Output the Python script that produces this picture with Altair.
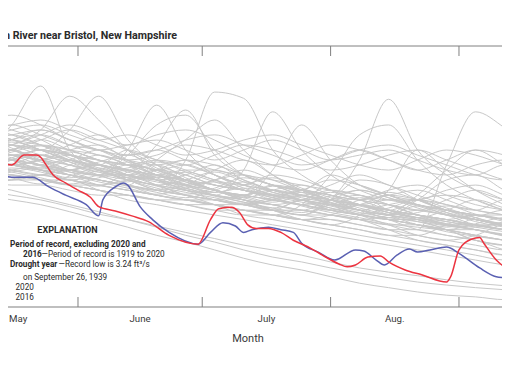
import altair as alt
import pandas as pd

# ---------------- data ----------------
grid_dates = ["2020-05-09", "2020-05-16", "2020-05-23", "2020-05-30", "2020-06-06",
              "2020-06-13", "2020-06-20", "2020-06-27", "2020-07-04", "2020-07-11",
              "2020-07-18", "2020-07-25", "2020-08-01", "2020-08-08", "2020-08-15",
              "2020-08-22", "2020-08-29", "2020-09-05", "2020-09-12", "2020-09-19"]

# daily mean streamflow (ft3/s) of the other years of record, read weekly
gray_series = [
    [260, 530, 1600, 260, 147, 111, 83, 72, 63, 55, 47, 63, 47, 41, 36, 31, 27, 27, 23, 23],
    [350, 300, 260, 460, 1200, 350, 170, 111, 83, 72, 63, 55, 63, 72, 47, 41, 36, 31, 31, 27],
    [170, 170, 195, 147, 128, 260, 930, 260, 128, 96, 72, 63, 55, 47, 41, 47, 41, 36, 31, 31],
    [225, 195, 170, 147, 170, 147, 300, 810, 225, 128, 96, 83, 72, 55, 47, 41, 36, 41, 41, 36],
    [147, 170, 147, 128, 111, 96, 83, 195, 1350, 1130, 260, 128, 83, 63, 55, 47, 41, 36, 31, 27],
    [195, 170, 147, 147, 128, 111, 96, 83, 72, 147, 770, 260, 128, 83, 63, 55, 47, 41, 36, 31],
    [260, 225, 195, 170, 147, 128, 111, 96, 83, 72, 147, 530, 195, 96, 72, 55, 47, 41, 36, 31],
    [128, 128, 111, 96, 83, 72, 63, 55, 55, 47, 47, 41, 63, 195, 1100, 260, 128, 83, 63, 55],
    [170, 147, 128, 111, 96, 83, 72, 63, 55, 55, 47, 41, 41, 36, 31, 27, 170, 770, 490, 260],
    [96, 83, 67, 55, 45, 36, 29, 23, 19, 15.2, 12.4, 10.8, 9.1, 7.9, 6.9, 6.1, 5.6, 5.2, 4.9, 4.6],
    [72, 63, 55, 45, 36, 29, 23, 19, 15.2, 12, 9.9, 8.6, 7.1, 5.9, 5.2, 4.6, 4.2, 4.0, 3.7, 3.7],
    [83, 72, 63, 52, 42, 36, 30, 25, 21, 17.4, 15.2, 13.1, 10.8, 9.1, 8.1, 7.3, 6.5, 5.9, 5.5, 5.2],
    [350, 400, 460, 350, 260, 225, 260, 195, 147, 128, 111, 96, 83, 72, 63, 63, 55, 47, 41, 36],
    [460, 350, 260, 195, 170, 260, 195, 147, 111, 96, 128, 111, 83, 63, 55, 47, 63, 83, 63, 47],
    [610, 460, 350, 225, 170, 128, 111, 128, 170, 111, 83, 72, 63, 55, 47, 41, 36, 31, 27, 27],
    [225, 260, 350, 260, 195, 147, 128, 111, 96, 83, 72, 83, 111, 96, 72, 55, 47, 41, 36, 31],
    [300, 225, 170, 128, 96, 83, 72, 63, 55, 47, 41, 36, 31, 27, 23, 20, 17.4, 15.2, 13.1, 13.1],
    [147, 195, 260, 225, 195, 170, 147, 111, 83, 72, 63, 55, 47, 55, 72, 63, 47, 36, 31, 27],
    [260, 350, 400, 300, 225, 195, 170, 195, 170, 128, 96, 83, 128, 96, 72, 63, 83, 96, 72, 55],
    [195, 147, 128, 170, 225, 170, 128, 96, 83, 72, 96, 83, 63, 47, 41, 36, 31, 31, 27, 23],
    [400, 350, 260, 195, 147, 111, 96, 83, 72, 63, 55, 47, 41, 36, 27, 20, 17.4, 15.2, 13.1, 11.4],
    [170, 225, 195, 147, 128, 128, 147, 128, 96, 83, 63, 55, 47, 41, 36, 31, 27, 23, 20, 17.4],
    [128, 147, 170, 195, 147, 111, 83, 72, 63, 55, 63, 72, 55, 47, 36, 27, 23, 20, 15.2, 13.1],
    [300, 300, 260, 225, 195, 170, 128, 96, 111, 147, 111, 83, 72, 63, 72, 83, 63, 47, 41, 36],
    [111, 111, 128, 147, 170, 128, 96, 72, 63, 55, 47, 41, 63, 111, 96, 63, 47, 41, 36, 31],
    [225, 170, 147, 128, 111, 96, 83, 96, 147, 195, 128, 83, 63, 47, 41, 36, 31, 27, 23, 20],
    [530, 400, 300, 225, 170, 147, 128, 111, 96, 83, 72, 63, 55, 47, 41, 63, 111, 128, 83, 63],
    [195, 170, 195, 260, 300, 195, 128, 111, 83, 63, 55, 47, 41, 36, 31, 31, 27, 23, 20, 17.4],
    [147, 128, 111, 96, 96, 111, 128, 96, 72, 63, 55, 63, 83, 72, 55, 41, 31, 27, 23, 20],
    [350, 260, 225, 300, 400, 260, 170, 128, 96, 83, 72, 63, 55, 55, 63, 55, 41, 31, 27, 23],
    [96, 111, 128, 111, 96, 83, 72, 63, 63, 72, 83, 72, 55, 41, 31, 23, 20, 17.4, 15.2, 15.2],
    [260, 195, 147, 111, 128, 170, 147, 111, 83, 63, 47, 36, 31, 27, 23, 23, 31, 41, 36, 27],
    [170, 195, 225, 170, 128, 96, 72, 63, 55, 47, 41, 36, 41, 55, 47, 36, 27, 20, 17.4, 15.2],
    [460, 530, 400, 300, 260, 195, 147, 170, 128, 96, 83, 72, 63, 55, 47, 63, 72, 63, 47, 41],
    [128, 128, 111, 111, 83, 63, 55, 47, 41, 36, 31, 27, 23, 20, 17.4, 15.2, 13.1, 11.4, 9.9, 9.1],
    [300, 260, 195, 225, 170, 128, 111, 83, 63, 55, 63, 83, 72, 63, 83, 96, 72, 55, 47, 41],
    [195, 260, 300, 260, 195, 170, 195, 170, 128, 96, 83, 72, 96, 128, 96, 72, 55, 47, 63, 55],
    [225, 195, 170, 147, 128, 128, 96, 72, 55, 41, 36, 31, 27, 23, 20, 17.4, 15.2, 13.1, 11.4, 11.4],
    [400, 350, 300, 260, 225, 170, 111, 83, 111, 128, 96, 83, 63, 55, 41, 31, 27, 20, 17.4, 17.4],
    [147, 170, 225, 195, 170, 147, 111, 83, 72, 63, 47, 41, 36, 31, 27, 23, 20, 23, 31, 31],
    [147, 128, 111, 96, 83, 72, 63, 63, 55, 47, 41, 55, 128, 400, 530, 195, 96, 63, 47, 41],
    [195, 170, 147, 128, 111, 96, 195, 350, 610, 260, 128, 83, 63, 55, 47, 41, 36, 31, 27, 23],
    [260, 300, 460, 1200, 610, 260, 147, 111, 83, 72, 63, 55, 47, 41, 36, 36, 31, 27, 23, 20],
    [225, 195, 170, 147, 128, 225, 530, 700, 260, 128, 96, 72, 63, 55, 47, 41, 36, 31, 27, 23],
    [128, 111, 111, 96, 83, 72, 63, 55, 47, 41, 41, 36, 31, 41, 83, 260, 147, 83, 55, 41],
    [111, 96, 96, 83, 72, 72, 63, 55, 47, 47, 41, 36, 36, 31, 27, 27, 23, 20, 17.4, 17.4],
    [260, 225, 260, 225, 170, 147, 128, 147, 147, 111, 83, 63, 47, 41, 36, 31, 27, 23, 20, 17.4],
    [195, 170, 147, 128, 111, 96, 83, 72, 63, 55, 47, 47, 41, 36, 41, 72, 147, 260, 170, 111],
    [300, 260, 208, 170, 139, 118, 147, 196, 128, 88, 72, 63, 53, 44, 38, 34, 30, 27, 23.7, 21.2],
    [156, 208, 260, 196, 147, 111, 88, 74, 88, 118, 96, 72, 58, 47, 55, 63, 44, 34, 29, 25.5],
    [365, 275, 196, 147, 185, 225, 156, 111, 83, 67, 83, 96, 72, 55, 44, 38, 34, 30, 27, 23.7],
    [128, 156, 139, 111, 93, 139, 170, 118, 83, 67, 55, 47, 63, 83, 67, 50, 41, 36, 32, 29],
    [245, 196, 156, 196, 260, 185, 128, 99, 78, 96, 118, 88, 67, 55, 44, 38, 47, 63, 50, 40],
    [185, 225, 185, 139, 111, 93, 78, 67, 83, 105, 78, 63, 50, 42, 50, 63, 50, 38, 30, 25.5],
    [326, 400, 300, 208, 156, 124, 105, 88, 72, 59, 50, 63, 78, 63, 47, 38, 32, 29, 34, 41],
    [208, 170, 196, 245, 196, 147, 118, 139, 111, 83, 67, 55, 47, 63, 78, 63, 47, 38, 31, 27],
    [139, 118, 99, 124, 156, 118, 93, 78, 67, 57, 67, 78, 63, 50, 41, 34, 29, 38, 47, 41],
    [275, 326, 260, 185, 139, 156, 185, 139, 105, 83, 70, 59, 50, 42, 36, 31, 25.5, 22.4, 20, 18.9],
    [170, 139, 118, 99, 118, 147, 118, 88, 70, 59, 50, 44, 55, 67, 55, 41, 34, 29, 25.5, 22.4],
    [400, 300, 225, 185, 147, 118, 96, 111, 139, 105, 78, 67, 57, 47, 42, 53, 44, 36, 30, 27],
    [118, 139, 156, 128, 105, 88, 74, 88, 105, 83, 67, 53, 44, 38, 32, 29, 27, 32, 38, 34],
    [260, 208, 165, 139, 124, 105, 124, 105, 83, 70, 93, 78, 63, 53, 44, 38, 32, 27, 22.4, 20],
    [196, 245, 292, 232, 175, 139, 111, 93, 78, 88, 74, 63, 70, 83, 67, 53, 42, 36, 30, 27],
    [147, 175, 147, 118, 147, 185, 139, 105, 83, 70, 59, 70, 59, 47, 38, 44, 53, 42, 34, 29],
    [260, 345, 460, 345, 260, 300, 345, 260, 196, 260, 345, 260, 196, 225, 260, 196, 147, 128, 170, 147],
    [345, 460, 530, 400, 300, 225, 260, 345, 400, 300, 225, 170, 196, 260, 300, 225, 170, 128, 111, 147],
    [610, 700, 530, 345, 260, 196, 225, 300, 260, 196, 170, 225, 300, 260, 196, 147, 196, 260, 225, 170],
    [170, 260, 345, 460, 345, 260, 196, 170, 225, 300, 260, 196, 147, 170, 225, 260, 196, 147, 111, 96],
    [460, 530, 610, 460, 345, 400, 300, 225, 260, 345, 400, 300, 225, 170, 147, 196, 260, 225, 170, 128],
    [225, 300, 400, 530, 400, 300, 400, 460, 345, 225, 170, 147, 196, 260, 196, 147, 128, 170, 196, 147],
]

red_dates = ["2020-05-13", "2020-05-16", "2020-05-19", "2020-05-22", "2020-05-23", "2020-05-24",
             "2020-05-26", "2020-05-29", "2020-06-01", "2020-06-04", "2020-06-06", "2020-06-10",
             "2020-06-14", "2020-06-18", "2020-06-23", "2020-06-30", "2020-07-03", "2020-07-05",
             "2020-07-08", "2020-07-10", "2020-07-12", "2020-07-14", "2020-07-17", "2020-07-20",
             "2020-07-23", "2020-07-27", "2020-07-30", "2020-08-03", "2020-08-05", "2020-08-07",
             "2020-08-10", "2020-08-13", "2020-08-15", "2020-08-19", "2020-08-23", "2020-08-29",
             "2020-08-30", "2020-09-01", "2020-09-04", "2020-09-06", "2020-09-07", "2020-09-10",
             "2020-09-13", "2020-09-16"]
red_q = [185, 170, 225, 225, 212, 180, 128, 102, 83, 68, 52, 46, 40, 34, 23, 17.9, 36, 49, 51, 44,
         31, 28, 28, 25, 20, 16.1, 13.1, 10.2, 9.4, 9.9, 12.4, 12.8, 10.8, 8.6, 7.5, 6.1, 7.1,
         15.2, 20.6, 21.7, 18.4, 11.4, 8.8, 8.0]

blue_dates = ["2020-05-13", "2020-05-16", "2020-05-21", "2020-05-25", "2020-05-29", "2020-06-03",
              "2020-06-06", "2020-06-07", "2020-06-10", "2020-06-12", "2020-06-13", "2020-06-16",
              "2020-06-19", "2020-06-23", "2020-06-30", "2020-07-03", "2020-07-06", "2020-07-09",
              "2020-07-11", "2020-07-13", "2020-07-17", "2020-07-20", "2020-07-23", "2020-07-25",
              "2020-07-29", "2020-08-02", "2020-08-07", "2020-08-09", "2020-08-12", "2020-08-14",
              "2020-08-17", "2020-08-20", "2020-08-22", "2020-08-25", "2020-08-29", "2020-09-01",
              "2020-09-06", "2020-09-10", "2020-09-13", "2020-09-16"]
blue_q = [131, 120, 120, 91, 72, 55, 40, 63, 91, 102, 96, 52, 36, 25, 17.9, 25, 33, 30, 25, 27,
          29, 27, 25, 18.4, 14.3, 11.4, 15.2, 14.7, 11.4, 9.9, 13.1, 15.6, 14.3, 15.2, 16.5, 13.8,
          9.1, 7.1, 6.8, 6.5]

month_starts = ["2020-06-01", "2020-07-01", "2020-08-01", "2020-09-01"]
month_mids = ["2020-06-16T00:00:00Z", "2020-07-16T12:00:00Z", "2020-08-16T12:00:00Z"]
month_labels = ["June", "July", "Aug."]

# ---------------- tables ----------------
gray_rows = []
for i, vals in enumerate(gray_series):
    for d, v in zip(grid_dates, vals):
        gray_rows.append({"series": f"y{i}", "date": d, "q": v})
gray_df = pd.DataFrame(gray_rows)
red_df = pd.DataFrame({"date": red_dates, "q": red_q})
blue_df = pd.DataFrame({"date": blue_dates, "q": blue_q})
ticks_df = pd.DataFrame({"date": month_starts})
labels_df = pd.DataFrame({"date": month_mids, "label": month_labels})
one = pd.DataFrame({"k": [0]})

W, H = 502, 261
FONT = "Roboto"
xscale = alt.Scale(type="utc", domain=[
    alt.DateTime(year=2020, month=5, date=13, hours=4, utc=True),
    alt.DateTime(year=2020, month=9, date=11, hours=9, minutes=20, utc=True)])
yscale = alt.Scale(type="log", domain=[3, 5000])
X = alt.X("date:T", scale=xscale, axis=None)
Y = alt.Y("q:Q", scale=yscale, axis=None)

gray = alt.Chart(gray_df).mark_line(color="#c8c8c8", strokeWidth=1, interpolate="monotone",
                                    clip=True).encode(x=X, y=Y, detail="series:N")
blue = alt.Chart(blue_df).mark_line(color="#5a60b2", strokeWidth=1.5, interpolate="monotone",
                                    clip=True).encode(x=X, y=Y)
red = alt.Chart(red_df).mark_line(color="#ec3440", strokeWidth=1.5, interpolate="monotone",
                                  clip=True).encode(x=X, y=Y)

frame_top = alt.Chart(one).mark_rule(color="#808080", strokeWidth=1).encode(
    x=alt.value(0), x2=alt.value(W), y=alt.value(0))
frame_bot = alt.Chart(one).mark_rule(color="#808080", strokeWidth=1.2).encode(
    x=alt.value(0), x2=alt.value(W), y=alt.value(H))
ticks_bot = alt.Chart(ticks_df).mark_rule(color="#808080", strokeWidth=1).encode(
    x=X, y=alt.value(H), y2=alt.value(H - 10))
ticks_top = alt.Chart(ticks_df).mark_rule(color="#808080", strokeWidth=1).encode(
    x=X, y=alt.value(0), y2=alt.value(10))

month_text = alt.Chart(labels_df).mark_text(font=FONT, fontSize=9.7, color="#3a3a3a",
                                            align="center", baseline="alphabetic").encode(
    x=X, y=alt.value(H + 15), text="label:N")


def txt(s, x, y, size=8.2, bold=False, align="left", color="#2b2b2b"):
    return alt.Chart(one).mark_text(text=s, font=FONT, fontSize=size,
                                    fontWeight="bold" if bold else "normal",
                                    color=color, align=align, baseline="alphabetic").encode(
        x=alt.value(x), y=alt.value(y))


texts = [
    txt("May", 9, H + 15, size=9.7, color="#3a3a3a"),
    txt("Month", 248, H + 35, size=11, color="#3a3a3a", align="center"),
    txt("Smith River near Bristol, New Hampshire", 177, -7, size=10.7, bold=True, align="right"),
    txt("EXPLANATION", 67.5, 186.7, size=9, bold=True, align="center"),
    txt("Period of record, excluding 2020 and", 10, 200.7, bold=True),
    txt("2016", 23, 211.3, bold=True),
    txt("\u2014Period of record is 1919 to 2020", 41.5, 211.3),
    txt("Drought year", 10, 221.3, bold=True),
    txt("\u2014Record low is 3.24 ft\u00b3/s", 58.5, 221.3),
    txt("on September 26, 1939", 23, 234.3),
    txt("2020", 15.5, 244),
    txt("2016", 15.5, 254),
]

chart = alt.layer(gray, blue, red, frame_top, frame_bot, ticks_bot, ticks_top, month_text,
                  *texts).properties(
    width=W, height=H, autosize="none",
    padding={"left": -8, "top": 38, "right": 0, "bottom": 50},
).configure_view(stroke="transparent")

chart.save("out.html", embed_options={"renderer": "svg", "actions": False})
